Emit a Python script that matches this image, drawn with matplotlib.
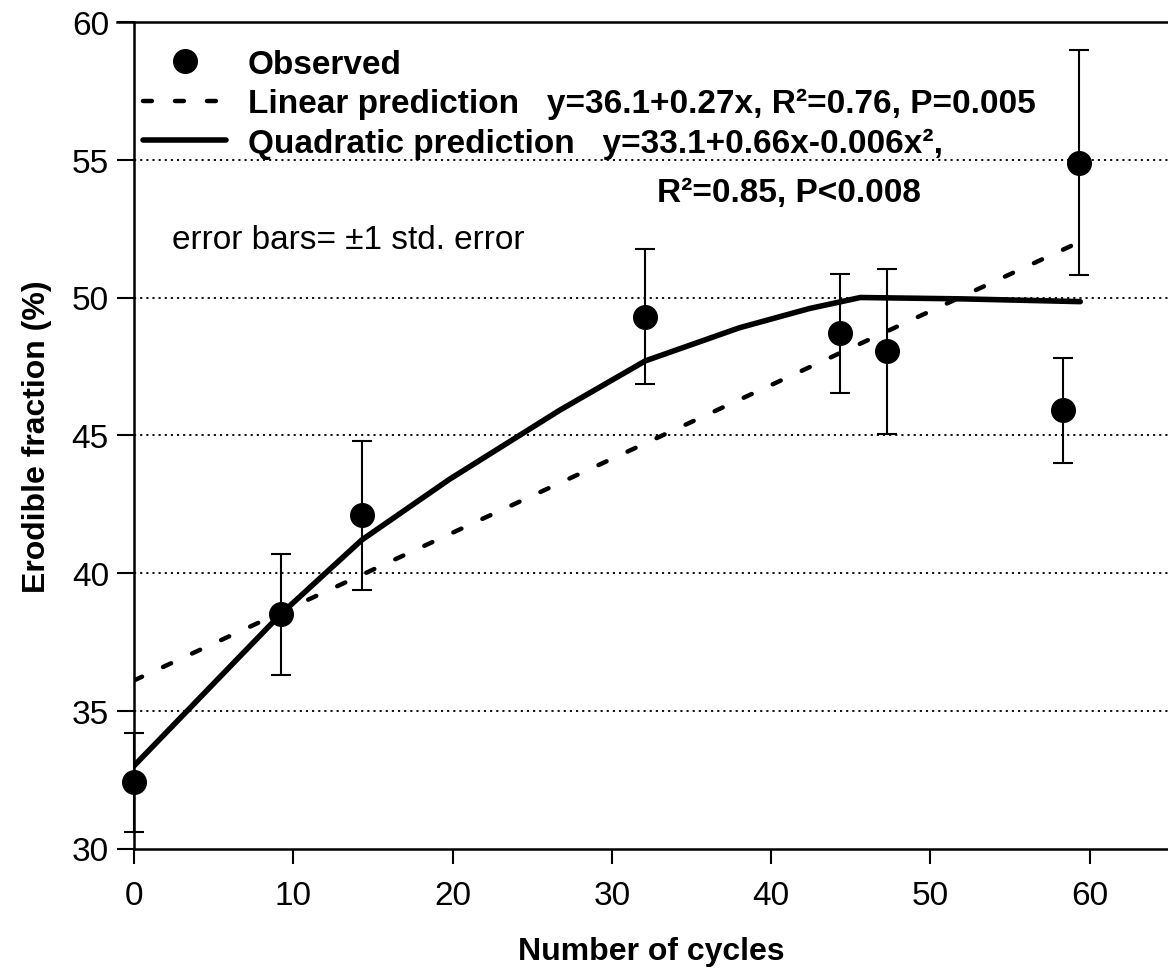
import matplotlib
matplotlib.use("Agg")
import matplotlib.pyplot as plt

plt.rcParams["font.family"] = ["Liberation Sans", "DejaVu Sans"]

# Observed erodible fraction (%) with +/-1 std. error
cycles = [0, 9.2, 14.3, 32.1, 44.3, 47.3, 58.3, 59.3]
erodible = [32.4, 38.5, 42.1, 49.3, 48.7, 48.05, 45.9, 54.9]
std_err = [1.8, 2.2, 2.7, 2.45, 2.15, 3.0, 1.9, 4.1]

# Linear prediction line
lin_x = [0, 59.3]
lin_y = [36.1, 52.0]

# Quadratic prediction curve
quad_x = [0, 9.2, 14.3, 19.8, 26.7, 32.1, 38.0, 42.4, 45.6, 52.0, 59.4]
quad_y = [33.0, 38.5, 41.2, 43.4, 45.9, 47.7, 48.9, 49.6, 50.0, 49.95, 49.85]

y_ticks = [30, 35, 40, 45, 50, 55, 60]
x_ticks = [0, 10, 20, 30, 40, 50, 60]

W, H = 1168, 978
fig = plt.figure(figsize=(W / 100, H / 100), dpi=100)
ax = fig.add_axes([134 / W, 1 - 849.5 / H, 1 - 134 / W, (849.5 - 23) / H])

# dotted horizontal grid
for yv in y_ticks[1:-1]:
    ax.axhline(yv, color="black", linestyle=(0, (1.2, 2.2)), linewidth=1.3, zorder=1)

ax.plot(lin_x, lin_y, color="black", linewidth=3.2, linestyle=(0, (2.0, 5.2)),
        dash_capstyle="round", zorder=2,
        label="Linear prediction   y=36.1+0.27x, R\u00b2=0.76, P=0.005")
ax.plot(quad_x, quad_y, color="black", linewidth=4.0, solid_capstyle="round", zorder=3,
        label="Quadratic prediction   y=33.1+0.66x-0.006x\u00b2,")
ax.errorbar(cycles, erodible, yerr=std_err, fmt="none", ecolor="black",
            elinewidth=1.5, capsize=7.5, capthick=1.5, zorder=4, clip_on=False)
ax.plot(cycles, erodible, "o", color="black", markersize=17, linestyle="none",
        zorder=5, clip_on=False, label="Observed")

ax.set_xlim(0, (W - 134) / 15.93)
ax.set_ylim(30, 60)
ax.set_xticks(x_ticks)
ax.set_yticks(y_ticks)
ax.tick_params(axis="both", direction="out", labelsize=24, width=1.5, color="black")
ax.tick_params(axis="y", length=12, pad=6)
ax.tick_params(axis="x", length=11, pad=12)
ax.spines["right"].set_visible(False)
for s in ["left", "bottom", "top"]:
    ax.spines[s].set_linewidth(1.8)
ax.spines["top"].set_bounds(-1.05, ax.get_xlim()[1])

ax.set_xlabel("Number of cycles", fontsize=23, fontweight="bold", labelpad=18)
ax.set_ylabel("Erodible fraction (%)", fontsize=23, fontweight="bold", labelpad=14)

handles, labels = ax.get_legend_handles_labels()
order = [2, 0, 1]
leg = ax.legend([handles[i] for i in order], [labels[i] for i in order],
                loc="upper left", bbox_to_anchor=(143 / W, 1 - 50 / H),
                bbox_transform=fig.transFigure, frameon=False,
                prop={"size": 24, "weight": "bold"}, handlelength=2.5,
                handletextpad=0.65, labelspacing=0.24, borderpad=0, borderaxespad=0)

ax.text(41.1, 53.8, "R\u00b2=0.85, P<0.008", fontsize=24, fontweight="bold",
        ha="center", va="center")
ax.text(2.4, 52.1, "error bars= \u00b11 std. error", fontsize=24, ha="left", va="center")

fig.savefig("out.png", dpi=100)
